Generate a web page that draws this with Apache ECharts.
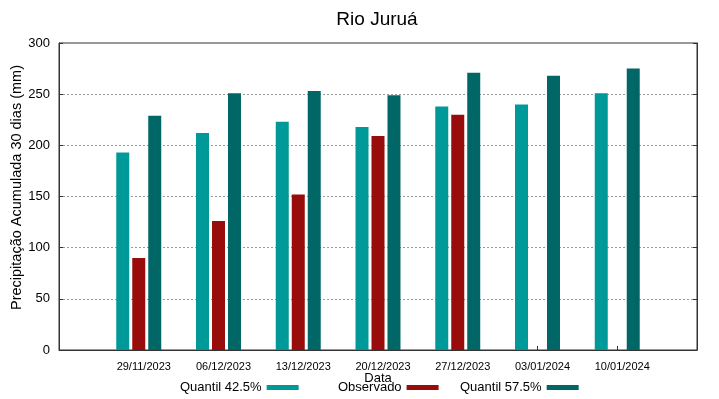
<!DOCTYPE html>
<html>
<head>
<meta charset="utf-8">
<script src="https://cdn.jsdelivr.net/npm/echarts@6/dist/echarts.min.js"></script>
<style>
	html, body { margin: 0; padding: 0; background: #fff; }
	#chart { width: 719px; height: 399px; }
</style>
</head>
<body>
<div id="chart"></div>
<script>
// empty first/last slot so that the plot box extends one step past the data
var datas = ['', '29/11/2023', '06/12/2023', '13/12/2023', '20/12/2023', '27/12/2023', '03/01/2024', '10/01/2024', ''];
var quantil425 = [null, 193, 212, 223, 218, 238, 240, 251, null];
var observado = [null, 90, 126, 152, 209, 230, null, null, null];
var quantil575 = [null, 229, 251, 253, 249, 271, 268, 275, null];
var seriesNames = ['Quantil 42.5%', 'Observado', 'Quantil 57.5%'];
var yTicks = { min: 0, max: 300, interval: 50 };

var FONT = 'Liberation Sans';
var chart = echarts.init(document.getElementById('chart'));

// gnuplot key: text then sample, columns of unequal width -> one legend per entry
var legendLeft = [180, 338, 460];
var legends = [];
for (var i = 0; i < seriesNames.length; i++) {
	legends.push({
		left: legendLeft[i],
		top: 381,
		padding: 0,
		align: 'right',
		icon: 'rect',
		itemWidth: 32,
		itemHeight: 5,
		textStyle: { fontFamily: FONT, fontSize: 13, color: '#000' },
		data: [seriesNames[i]]
	});
}

var option = {
	animation: false,
	textStyle: { fontFamily: FONT },
	title: {
		text: 'Rio Juruá',
		left: 372,
		textAlign: 'center',
		top: 5,
		textStyle: { fontFamily: FONT, fontSize: 19, fontWeight: 'normal', color: '#000' }
	},
	grid: {
		left: 59,
		right: 22,
		top: 43,
		bottom: 49,
		outerBoundsMode: 'none',
		containLabel: false,
		show: true,
		borderColor: '#333',
		borderWidth: 1
	},
	legend: legends,
	xAxis: {
		type: 'category',
		boundaryGap: false,
		data: datas,
		name: 'Data',
		nameLocation: 'middle',
		nameGap: 22,
		nameMoveOverlap: false,
		nameTextStyle: { fontFamily: FONT, fontSize: 13, color: '#000' },
		axisLine: { lineStyle: { color: '#333' } },
		axisTick: { inside: true, length: 4, lineStyle: { color: '#333' } },
		axisLabel: {
			interval: 0,
			fontFamily: FONT,
			fontSize: 11,
			color: '#000',
			margin: 11,
			padding: [0, 0, 0, 10]
		},
		splitLine: { show: false }
	},
	yAxis: [{
		type: 'value',
		min: yTicks.min,
		max: yTicks.max,
		interval: yTicks.interval,
		name: 'Precipitação Acumulada 30 dias (mm)',
		nameLocation: 'middle',
		nameGap: 35,
		nameMoveOverlap: false,
		nameTextStyle: { fontFamily: FONT, fontSize: 14.5, color: '#000', padding: [0, 0, 0, 18] },
		axisLine: { show: true, lineStyle: { color: '#333' } },
		axisTick: { show: true, inside: true, length: 4, lineStyle: { color: '#333' } },
		axisLabel: { fontFamily: FONT, fontSize: 13, color: '#000', margin: 9 },
		splitLine: { show: true, lineStyle: { color: '#999', type: [2, 2], width: 1 } }
	}, {
		type: 'value',
		position: 'right',
		min: yTicks.min,
		max: yTicks.max,
		interval: yTicks.interval,
		axisLine: { show: true, lineStyle: { color: '#333' } },
		axisTick: { show: true, inside: true, length: 4, lineStyle: { color: '#333' } },
		axisLabel: { show: false },
		splitLine: { show: false }
	}],
	series: [{
		name: seriesNames[0],
		type: 'bar',
		barWidth: 13,
		barGap: '23%',
		itemStyle: { color: '#009999' },
		data: quantil425
	}, {
		name: seriesNames[1],
		type: 'bar',
		barWidth: 13,
		barGap: '23%',
		itemStyle: { color: '#990c0c' },
		data: observado
	}, {
		name: seriesNames[2],
		type: 'bar',
		barWidth: 13,
		barGap: '23%',
		itemStyle: { color: '#006666' },
		data: quantil575
	}]
};

chart.setOption(option);
</script>
</body>
</html>
